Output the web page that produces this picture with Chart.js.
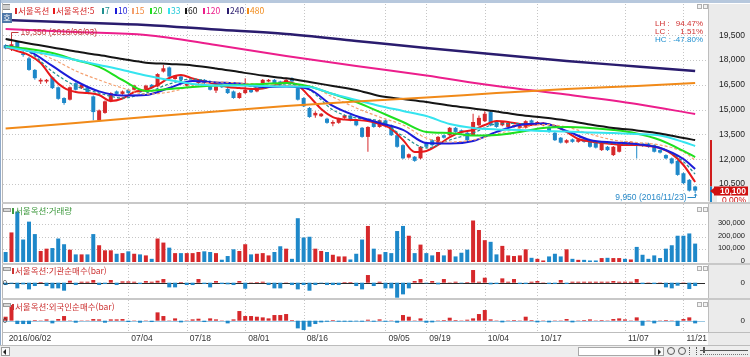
<!DOCTYPE html>
<html lang="ko"><head><meta charset="utf-8">
<title>서울옥션</title>
<script src="https://cdn.jsdelivr.net/npm/chart.js"></script>
<style>
html,body{margin:0;padding:0;background:#fff;}
#wrap{position:relative;width:750px;height:357px;overflow:hidden;background:#fff;font-family:"Noto Sans CJK KR","Noto Sans",sans-serif;}
.box{position:absolute;}
.box canvas{display:block;}
.sep{position:absolute;left:2px;width:748px;background:#c8c8c8;}
.lg{position:absolute;top:4px;height:12px;line-height:12px;font-size:8.5px;white-space:nowrap;}
.mk{display:inline-block;width:2px;height:6px;margin-right:1px;vertical-align:middle;position:relative;top:-1px;}
.ttl{position:absolute;height:11px;line-height:11px;font-size:8.5px;white-space:nowrap;}
.ico{position:absolute;width:6px;height:2px;border:1px solid #9a9a9a;background:#d8d8d8;}
.pb{position:absolute;width:3px;height:3px;border:1px solid #b0b0b0;background:#f2f2f2;}
.zl{position:absolute;left:3px;font:7px "Liberation Sans",sans-serif;color:#333;line-height:8px;}
</style></head><body>
<div id="wrap">
  <div class="box" style="left:3px;top:4px;width:747px;height:198px"><canvas id="cMain" width="747" height="198"></canvas></div>
  <div class="box" style="left:3px;top:204px;width:747px;height:60px"><canvas id="cVol" width="747" height="60"></canvas></div>
  <div class="box" style="left:3px;top:265px;width:747px;height:33px"><canvas id="cInst" width="747" height="33"></canvas></div>
  <div class="box" style="left:3px;top:300px;width:747px;height:46px"><canvas id="cFor" width="747" height="46"></canvas></div>

  <!-- frame -->
  <div style="position:absolute;left:0;top:0;width:750px;height:3px;background:#b7c8dd"></div>
  <div style="position:absolute;left:0;top:0;width:1px;height:357px;background:#8fa9c9"></div>
  <div style="position:absolute;left:2px;top:3px;width:1px;height:343px;background:#b8b8b8"></div>
  <div class="sep" style="top:202px;height:2px"></div>
  <div class="sep" style="top:263px;height:2px"></div>
  <div class="sep" style="top:298px;height:2px"></div>
  <div class="sep" style="top:332px;height:1px;background:#bdbdbd"></div>
  <div style="position:absolute;left:0;top:345px;width:750px;height:12px;background:#eeeeee;border-top:1px solid #bcbcbc;box-sizing:border-box"></div>

  <!-- main legend -->
  <div style="position:absolute;left:3px;top:4px;width:7px;height:4px;border-top:1px solid #8a8a8a;border-bottom:1px solid #8a8a8a;background:#cfcfcf"></div>
  <div style="position:absolute;left:2px;top:13px;width:10px;height:10px;background:#4f77a8;color:#fff;font-size:8px;line-height:10px;text-align:center">호</div>
  <div class="lg" style="left:15px;color:#d42a2a"><span class="mk" style="background:#d42a2a"></span>서울옥션</div>
  <div class="lg" style="left:53px;color:#d42a2a"><span class="mk" style="background:#e8191b"></span>서울옥션:5</div>
  <div class="lg" style="left:102px;color:#208f8f"><span class="mk" style="background:#208f8f"></span>7</div>
  <div class="lg" style="left:115px;color:#1c1cd8"><span class="mk" style="background:#1c1cd8"></span>10</div>
  <div class="lg" style="left:132px;color:#f08a40"><span class="mk" style="background:#f4a070"></span>15</div>
  <div class="lg" style="left:150px;color:#1fc01f"><span class="mk" style="background:#1fe01f"></span>20</div>
  <div class="lg" style="left:168px;color:#20c8d8"><span class="mk" style="background:#35e4ef"></span>33</div>
  <div class="lg" style="left:185px;color:#151515"><span class="mk" style="background:#151515"></span>60</div>
  <div class="lg" style="left:203px;color:#ec1e8c"><span class="mk" style="background:#ec1e8c"></span>120</div>
  <div class="lg" style="left:227px;color:#2a1c6e"><span class="mk" style="background:#2a1c6e"></span>240</div>
  <div class="lg" style="left:247px;color:#f18a19"><span class="mk" style="background:#f18a19"></span>480</div>

  <!-- panel titles -->
  <div class="ico" style="left:3px;top:208px"></div>
  <div class="ttl" style="left:12px;top:205px;color:#3f9a3f"><span class="mk" style="background:#3f9a3f"></span>서울옥션:거래량</div>
  <div class="ico" style="left:3px;top:267px"></div>
  <div class="ttl" style="left:12px;top:265px;color:#cc3333"><span class="mk" style="background:#cc3333"></span>서울옥션:기관순매수(bar)</div>
  <div class="ico" style="left:3px;top:303px"></div>
  <div class="ttl" style="left:12px;top:301px;color:#cc3333"><span class="mk" style="background:#cc3333"></span>서울옥션:외국인순매수(bar)</div>
  <div class="zl" style="top:279px">0</div>
  <div class="zl" style="top:317px">0</div>

  <!-- panel buttons -->
  <div class="pb" style="left:697px;top:4px"></div><div class="pb" style="left:703px;top:4px"></div>
  <div class="pb" style="left:697px;top:207px"></div><div class="pb" style="left:703px;top:207px"></div>
  <div class="pb" style="left:697px;top:266px"></div><div class="pb" style="left:703px;top:266px"></div>
  <div class="pb" style="left:697px;top:302px"></div><div class="pb" style="left:703px;top:302px"></div>

  <!-- bottom bar -->
  <div style="position:absolute;left:1px;top:347px;width:9px;height:9px;border:1px solid #9c9c9c;background:#fafafa;box-sizing:border-box"></div>
  <div style="position:absolute;left:3px;top:349px;width:0;height:0;border-top:3px solid transparent;border-bottom:3px solid transparent;border-right:3px solid #222"></div>
  <div style="position:absolute;left:578px;top:347px;width:77px;height:9px;border:1px solid #a8a8a8;background:#fff;box-sizing:border-box"></div>
  <div style="position:absolute;left:655px;top:347px;width:9px;height:9px;border:1px solid #9c9c9c;background:#fafafa;box-sizing:border-box"></div>
  <div style="position:absolute;left:658px;top:349px;width:0;height:0;border-top:3px solid transparent;border-bottom:3px solid transparent;border-left:3px solid #222"></div>
  <div style="position:absolute;left:667px;top:347px;width:6px;height:6px;border:1px solid #555;border-radius:50%"></div>
  <div style="position:absolute;left:678px;top:347px;width:6px;height:6px;border:1px solid #555;border-radius:50%"></div>
  <div style="position:absolute;left:689px;top:347px;width:6px;height:8px;border-left:1px dotted #555;border-right:1px dotted #555"></div>
  <div style="position:absolute;left:700px;top:350px;width:48px;height:1px;background:#555"></div>
  <div style="position:absolute;left:703px;top:347px;width:2px;height:6px;background:#555"></div>
  <div style="position:absolute;left:700px;top:354px;width:48px;height:1px;border-top:1px dotted #777"></div>
</div>

<script>
// ====== DATA ======
const dates = ['06/02','06/03','06/07','06/08','06/09','06/10','06/13','06/14','06/15','06/16','06/17','06/20','06/21','06/22','06/23','06/24','06/27','06/28','06/29','06/30',
'07/01','07/04','07/05','07/06','07/07','07/08','07/11','07/12','07/13','07/14','07/15','07/18','07/19','07/20','07/21','07/22','07/25','07/26','07/27','07/28','07/29',
'08/01','08/02','08/03','08/04','08/05','08/08','08/09','08/10','08/11','08/12','08/16','08/17','08/18','08/19','08/22','08/23','08/24','08/25','08/26','08/29','08/30','08/31',
'09/01','09/02','09/05','09/06','09/07','09/08','09/09','09/12','09/13','09/19','09/20','09/21','09/22','09/23','09/26','09/27','09/28','09/29','09/30',
'10/04','10/05','10/06','10/07','10/10','10/11','10/12','10/13','10/14','10/17','10/18','10/19','10/20','10/21','10/24','10/25','10/26','10/27','10/28','10/31',
'11/01','11/02','11/03','11/04','11/07','11/08','11/09','11/10','11/11','11/14','11/15','11/16','11/17','11/18','11/21','11/22','11/23'];

const axisDates = ['06/02','07/04','07/18','08/01','08/16','09/05','09/19','10/04','10/17','11/07','11/21'];
const axisText  = ['2016/06/02','07/04','07/18','08/01','08/16','09/05','09/19','10/04','10/17','11/07','11/21'];

const openP = [18900,18700,19100,18400,18100,17400,16700,16700,16950,16350,
15700,15600,16600,16300,16350,15800,14350,14800,15500,16100,
15950,16200,16200,16200,16250,16500,16400,17300,17550,16850,
17000,16450,16500,16600,16800,16400,16150,16500,16250,16100,
15700,16000,16200,16100,16600,16700,16800,16700,16600,16900,
16300,15700,15100,14650,14600,14450,14150,14200,14500,14650,
14350,13900,13350,14250,13950,14350,14050,13450,12850,12100,
12150,12050,13000,13150,13000,13450,13450,13900,13750,13600,
13450,14050,14300,14850,14250,14050,13950,13950,13900,13900,
14350,14150,14050,13950,13600,13300,13000,13200,13050,13150,
13050,13000,12550,12750,12250,12450,13050,12950,12950,12950,
12950,12850,12550,12250,12050,11900,11150,10750,10350];
const highP = [18950,19350,19150,18550,18200,17450,16900,16850,17000,16400,
15750,16400,16650,16550,16400,15850,15000,15550,16050,16150,
16150,16250,16500,16250,16500,16550,17200,17700,17600,17100,
17050,16600,16600,16750,16850,16450,16450,16550,16300,16150,
16050,16900,16250,16250,16850,16850,16850,16750,16850,16950,
16350,15750,15150,14900,14800,14500,14350,14500,14700,14700,
14400,13950,14000,14300,14400,14400,14100,13500,12900,12350,
12200,12800,13050,13200,13400,13500,13950,13950,13800,13650,
14750,14650,14900,14900,14300,14300,14250,14100,14050,14350,
14400,14300,14250,14000,13650,13350,13200,13250,13250,13200,
13100,13050,13100,12800,12800,13000,13100,13100,13000,13000,
13000,12900,12600,12300,12100,11950,11200,10800,10400];
const lowP = [18650,18550,18650,18200,17350,16800,16550,16600,16250,15600,
15300,15550,16150,16250,15950,14350,14300,14750,15450,15900,
15900,15950,16150,16000,16200,16250,16350,17250,16950,16800,
16750,16400,16450,16550,16550,16150,16000,16300,15950,15650,
15650,15950,16000,16050,16550,16650,16550,16450,16550,16650,
15550,15150,14500,14500,14550,14150,14000,14150,14450,14300,
14000,13300,12450,13900,13900,14000,13400,12700,12000,12050,
11850,12000,12700,12800,12950,13250,13400,13600,13550,13100,
13400,14000,14250,14000,13900,14000,13900,13900,13850,13850,
14150,14100,14000,13600,13100,12950,12950,13000,13000,13000,
12700,12650,12500,12500,12200,12400,12900,12900,12050,12750,
12700,12400,12350,12000,11700,11000,10500,10050,9950];
const closeP = [18700,18950,18700,18300,17400,16900,16800,16800,16300,15650,
15400,16350,16200,16500,16000,14850,14950,15500,16000,15950,
16100,16000,16450,16050,16450,16300,17150,17500,17000,17050,
16800,16550,16550,16700,16600,16200,16400,16350,16000,15700,
16000,16200,16050,16200,16800,16800,16600,16500,16800,16700,
15600,15200,14550,14800,14750,14200,14250,14450,14650,14350,
14050,13350,13950,13950,14350,14050,13450,12750,12050,12300,
11900,12750,12750,12850,13350,13300,13900,13650,13600,13150,
14250,14500,14750,14050,13950,14250,14200,14050,14000,14300,
14200,14250,14200,13650,13150,13000,13150,13050,13200,13050,
12750,12700,13050,12550,12750,12950,12950,13050,12800,12800,
12750,12450,12400,12050,11750,11050,10550,10100,10100];

const volume = [79000,233000,398000,177000,318000,220000,87000,105000,110000,185000,
140000,97000,60000,60000,60000,220000,132000,92000,92000,65000,
70000,84000,65000,60000,52000,25000,185000,153000,113000,70000,
70000,70000,70000,79000,84000,79000,70000,18000,47000,100000,
87000,140000,60000,65000,70000,52000,79000,124000,105000,25000,
345000,193000,199000,105000,87000,79000,57000,44000,44000,20000,
65000,177000,284000,105000,60000,79000,70000,244000,284000,207000,
70000,137000,70000,52000,79000,52000,97000,44000,73000,97000,
327000,252000,172000,159000,60000,127000,52000,47000,52000,100000,
33000,25000,12000,44000,65000,44000,100000,25000,17000,17000,
12000,12000,31000,33000,31000,31000,25000,20000,119000,57000,
25000,52000,31000,105000,132000,207000,207000,225000,145000];

const instNet = [-7000,-3000,-17000,-5000,-20000,-10000,2000,-10000,-17000,-17000,
-24000,6000,-7000,3000,3000,8000,-7000,-4000,8000,-7000,
4000,4000,3000,-4000,5000,3000,6000,11000,-14000,-14000,
2000,-7000,-7000,11000,-4000,-14000,5000,-4000,-5000,-7000,
5000,-18000,1000,2000,3000,-7000,-17000,-17000,1000,-7000,
-20000,-7000,-24000,-7000,-2000,-7000,-7000,-7000,2000,2000,
-10000,-20000,23000,-10000,3000,-17000,-17000,-45000,-35000,-17000,
5000,11000,-2000,5000,-5000,11000,1000,3000,-2000,2000,
38000,3000,15000,-5000,-4000,13000,3000,11000,-4000,-4000,
3000,5000,1000,-4000,-4000,8000,-4000,3000,3000,3000,
3000,3000,3000,3000,5000,3000,3000,3000,11000,-4000,
1000,-4000,1000,-14000,-17000,-9000,1000,-19000,-10000];

const foreignNet = [12000,47000,-10000,-10000,-10000,2000,1000,4000,-8000,5000,
14000,1000,-6000,1000,1000,5000,4000,-6000,4000,4000,
5000,-4000,1000,-6000,1000,-4000,25000,14000,1000,7000,
-5000,1000,4000,6000,-4000,7000,4000,1000,-8000,4000,
29000,14000,14000,12000,10000,7000,17000,17000,20000,2000,
-23000,-28000,-18000,-10000,-5000,-3000,2000,-3000,-3000,-3000,
-2000,-3000,3000,-3000,4000,-3000,1000,-6000,17000,12000,
1000,7000,-6000,-5000,1000,2000,9000,2000,1000,3000,
7000,20000,32000,4000,1000,-5000,1000,2000,1000,12000,
2000,-5000,1000,-5000,1000,1000,5000,-5000,1000,2000,
4000,1000,2000,1000,5000,7000,4000,1000,10000,-15000,
1000,-8000,1000,2000,1000,-16000,5000,10000,-8000];

// moving averages (sample positions = trading-day index)
const ma5Idx = [0,2,4,6,8,10,12,14,16,18,20,22,24,26,28,30,32,34,36,38,40,42,44,46,48,50,52,54,56,58,60,62,64,66,68,70,72,74,76,78,80,82,84,86,88,90,92,94,96,98,100,102,104,106,108,110,112,114,116,118];
const ma5 = [18790,18540,18300,17820,16910,16310,16060,16000,15880,15520,15670,16060,16190,16490,16910,17090,16880,16700,16550,16370,16310,16250,16280,16460,16670,16460,15790,15040,14550,14400,14370,14310,14130,13830,13160,12440,12500,12860,13340,13650,13770,14070,14310,14250,14130,14070,14160,14010,13650,13220,13070,12980,12920,12860,12860,12800,12680,12320,11650,10620];
const maIdx = [0,4,8,12,16,20,24,28,32,36,40,44,48,52,56,60,64,68,72,76,80,84,88,92,96,100,104,108,112,116,118];
const ma7  = [18820,18480,17300,16430,16000,15700,16000,16550,16850,16650,16520,16310,16550,16190,14980,14490,14310,13400,12680,13160,13590,14130,14160,14150,13700,13120,12950,12890,12700,11850,11100];
const ma10 = [18850,18540,17640,16730,16100,15850,15880,16310,16730,16640,16580,16370,16390,16220,15220,14610,14190,13770,12980,12950,13100,13650,14070,14160,13710,13160,13010,12920,12680,12010,11410];
const ma15 = [18820,18600,18060,17340,16790,16310,15940,16060,16430,16670,16610,16520,16460,16400,15760,15100,14550,14070,13280,13040,13160,13520,13860,14100,13950,13520,13160,13010,12860,12440,11950];
const ma20 = [18820,18670,18420,18000,17580,16790,16130,16250,16370,16460,16490,16550,16610,16400,15940,15460,14860,14250,13650,13590,13430,13460,13650,13890,13950,13890,13770,13560,13160,12500,12130];
const ma33 = [18790,18540,18300,18000,17700,17400,17060,16790,16550,16460,16460,16430,16400,16370,15940,15580,15220,14920,14610,14130,13890,13800,13770,13710,13680,13620,13590,13520,13430,13040,12800];
const ma60 = [19270,19000,18760,18510,18300,18060,17840,17760,17670,17490,17270,17060,16890,16670,16430,16190,15820,15640,15460,15250,15070,14890,14670,14520,14340,14100,13890,13740,13560,13280,13160];
const longIdx = [0,12,24,36,48,60,72,84,96,108,118];
const ma120 = [19880,19690,19510,18910,18240,17640,17060,16430,15910,15340,14730];
const ma240 = [20420,20270,20120,19840,19570,19150,18730,18330,17940,17610,17340];
const ma480 = [13860,14190,14550,14890,15220,15490,15730,16000,16250,16430,16610];

const priceTicks = [10500,12000,13500,15000,16500,18000,19500];
const volTicks = [0,100000,200000,300000];
const rangeBar = [13160,10350]; // right-edge range marker

// ====== CHARTS ======
const X_MIN = -0.45, X_MAX = 120.2;
const AXIS_W = 37, PAD_R = 5;   // plot right edge at 708, axis labels right-aligned at 745
const tickIdx = axisDates.map(d => dates.indexOf(d));
const gridIdx = tickIdx.slice(1);
const UP = '#d6282b', DN = '#1e88c9';
const isUp = i => closeP[i] >= openP[i];
const fmt = v => Number(v).toLocaleString('en-US');
const candleColors = dates.map((d, i) => isUp(i) ? UP : DN);

function xAxis(show) {
  return {
    type: 'linear', min: X_MIN, max: X_MAX, offset: false, display: show,
    grid: {display: false, drawTicks: false}, border: {display: false},
    afterFit(s) { s.paddingLeft = 0; s.paddingRight = 0; if (show) s.height = 14; },
    afterBuildTicks(s) { s.ticks = tickIdx.map(v => ({value: v})); },
    ticks: {display: show, autoSkip: false, maxRotation: 0, minRotation: 0, align: 'start', labelOffset: 3, padding: 2,
      color: '#333', font: {family: 'Liberation Sans', size: 8.5},
      callback: v => axisText[tickIdx.indexOf(v)]}
  };
}
function yAxis(min, max, ticks, size, off) {
  return {
    position: 'right', min, max, beginAtZero: false,
    grid: {display: false, drawTicks: false}, border: {display: false},
    afterFit(s) { s.width = AXIS_W; s.paddingTop = 0; s.paddingBottom = 0; },
    afterBuildTicks(s) { s.ticks = ticks.map(v => ({value: v})); },
    ticks: {crossAlign: 'far', padding: 0, labelOffset: off || 0, color: '#222',
      font: {family: 'Liberation Sans', size: size}, callback: v => fmt(v)}
  };
}
function panelPlugin(hLines, zeroColor) {
  return {
    id: 'panel',
    beforeDraw(chart) {
      const {ctx, chartArea: a, width, height} = chart;
      const x = chart.scales.x, y = chart.scales.y;
      ctx.save();
      ctx.fillStyle = '#fff'; ctx.fillRect(0, 0, width, height);
      ctx.fillStyle = '#ebebeb'; ctx.fillRect(a.right, 0, width - a.right, height);
      ctx.strokeStyle = '#c6c6c6'; ctx.lineWidth = 1; ctx.setLineDash([1, 2]);
      ctx.beginPath();
      gridIdx.forEach(i => { const px = Math.round(x.getPixelForValue(i)) + 0.5; ctx.moveTo(px, a.top); ctx.lineTo(px, a.bottom); });
      hLines.forEach(v => { const py = Math.round(y.getPixelForValue(v)) + 0.5; ctx.moveTo(a.left, py); ctx.lineTo(a.right, py); });
      ctx.stroke();
      ctx.setLineDash([]);
      ctx.strokeStyle = '#bdbdbd';
      ctx.beginPath(); ctx.moveTo(a.right + 0.5, a.top); ctx.lineTo(a.right + 0.5, a.bottom); ctx.stroke();
      if (zeroColor) {
        const py = Math.round(y.getPixelForValue(0)) + 0.5;
        ctx.strokeStyle = zeroColor;
        ctx.beginPath(); ctx.moveTo(a.left, py); ctx.lineTo(a.right - 3, py); ctx.stroke();
      }
      ctx.restore();
    }
  };
}
const baseOpts = (xShow, yOpt, bottomPad) => ({
  responsive: false, animation: false, devicePixelRatio: 1, events: [],
  layout: {padding: {top: 0, left: 0, right: PAD_R, bottom: bottomPad || 0}},
  plugins: {legend: {display: false}, tooltip: {enabled: false}},
  scales: {x: xAxis(xShow), y: yOpt}
});
const lineDs = (label, xs, ys, color, w, dash) => ({
  type: 'line', label, data: xs.map((x, k) => ({x, y: ys[k]})),
  borderColor: color, borderWidth: w, borderDash: dash || [], pointRadius: 0,
  cubicInterpolationMode: 'monotone', fill: false, order: 1
});

const mainMarks = {
  id: 'mainMarks',
  afterDraw(chart) {
    const {ctx, chartArea: a} = chart;
    const x = chart.scales.x, y = chart.scales.y;
    const hiVal = Math.max(...highP), loVal = Math.min(...lowP);
    const hi = highP.indexOf(hiVal), lo = lowP.indexOf(loVal);
    const last = closeP.length - 1, lastC = closeP[last], prevC = closeP[last - 1];
    ctx.save();
    ctx.font = '8.5px "Liberation Sans"'; ctx.textBaseline = 'middle';
    // highest
    const hx = Math.round(x.getPixelForValue(hi)) + 0.5, hy = Math.round(y.getPixelForValue(hiVal)) + 0.5;
    ctx.strokeStyle = '#c23b3b'; ctx.lineWidth = 1;
    ctx.beginPath(); ctx.moveTo(hx, hy); ctx.lineTo(hx, hy - 6); ctx.lineTo(hx + 7, hy - 6); ctx.stroke();
    ctx.fillStyle = '#c23b3b'; ctx.textAlign = 'left';
    ctx.fillText(fmt(hiVal) + ' (2016/' + dates[hi] + ')', hx + 9, hy - 6);
    // lowest
    const lx = Math.round(x.getPixelForValue(lo)) + 0.5, ly = Math.round(y.getPixelForValue(loVal)) + 0.5;
    ctx.strokeStyle = '#2a8ac8'; ctx.fillStyle = '#2a8ac8';
    ctx.beginPath(); ctx.moveTo(lx - 8, ly + 4); ctx.lineTo(lx, ly + 4); ctx.lineTo(lx, ly + 1); ctx.stroke();
    ctx.beginPath(); ctx.moveTo(lx - 2, ly + 2); ctx.lineTo(lx, ly); ctx.lineTo(lx + 2, ly + 2); ctx.closePath(); ctx.fill();
    ctx.textAlign = 'right';
    ctx.fillText(fmt(loVal) + ' (2016/' + dates[lo] + ')', lx - 9, ly + 4);
    // LH / LC / HC
    const pct = v => v.toFixed(2) + '%';
    const rows = [['LH :', pct((hiVal - loVal) / loVal * 100), '#d03030'],
                  ['LC :', pct((lastC - loVal) / loVal * 100), '#d03030'],
                  ['HC :', pct((lastC - hiVal) / hiVal * 100), '#2090d0']];
    ctx.font = '8px "Liberation Sans"';
    rows.forEach((r, k) => {
      const ty = 19.5 + k * 8;
      ctx.fillStyle = r[2];
      ctx.textAlign = 'left'; ctx.fillText(r[0], a.right - 53, ty);
      ctx.textAlign = 'right'; ctx.fillText(r[1], a.right - 5, ty);
    });
    // range marker at axis edge
    const ry1 = y.getPixelForValue(rangeBar[0]), ry2 = y.getPixelForValue(rangeBar[1]);
    ctx.fillStyle = '#d01c1c'; ctx.fillRect(a.right + 2, ry1, 2, ry2 - ry1);
    ctx.fillStyle = '#1e88c9'; ctx.fillRect(a.right + 2, ry2, 2, a.bottom + 1 - ry2);
    // current price box
    const cy = Math.round(y.getPixelForValue(lastC));
    ctx.fillStyle = '#d01010';
    ctx.beginPath(); ctx.moveTo(a.right + 2, cy); ctx.lineTo(a.right + 6, cy - 3); ctx.lineTo(a.right + 6, cy + 3); ctx.closePath(); ctx.fill();
    ctx.fillRect(a.right + 6, cy - 4.5, 34, 9);
    ctx.fillStyle = '#fff'; ctx.font = 'bold 8.5px "Liberation Sans"'; ctx.textAlign = 'right';
    ctx.fillText(fmt(lastC), a.right + 38, cy + 0.5);
    ctx.fillStyle = '#fff'; ctx.fillRect(a.right + 9, cy + 5, 31, 9);
    ctx.fillStyle = '#d01010'; ctx.font = '8.5px "Liberation Sans"';
    ctx.fillText(((lastC - prevC) / prevC * 100).toFixed(2) + '%', a.right + 38, cy + 9.5);
    ctx.restore();
  }
};

new Chart(document.getElementById('cMain'), {
  type: 'bar',
  data: {datasets: [
    lineDs('480', longIdx, ma480, '#f18a19', 2),
    lineDs('240', longIdx, ma240, '#2a1c6e', 2.5),
    lineDs('120', longIdx, ma120, '#ec1e8c', 2),
    lineDs('60', maIdx, ma60, '#151515', 2),
    lineDs('33', maIdx, ma33, '#35e4ef', 2),
    lineDs('20', maIdx, ma20, '#1fe01f', 2),
    lineDs('15', maIdx, ma15, '#f4a070', 1.2, [3, 2]),
    lineDs('10', maIdx, ma10, '#1c1cd8', 2),
    lineDs('7', maIdx, ma7, '#208f8f', 1.2, [3, 2]),
    lineDs('5', ma5Idx, ma5, '#e8191b', 2),
    {type: 'bar', label: '서울옥션', data: dates.map((d, i) => ({x: i, y: [openP[i], closeP[i]]})),
     backgroundColor: candleColors, grouped: false, maxBarThickness: 4, order: 10},
    {type: 'bar', label: 'wick', data: dates.map((d, i) => ({x: i, y: [lowP[i], highP[i]]})),
     backgroundColor: candleColors, grouped: false, maxBarThickness: 1, inflateAmount: 0, order: 11}
  ]},
  options: baseOpts(false, yAxis(9472, 21387, priceTicks, 8.5), 1),
  plugins: [panelPlugin(priceTicks), mainMarks]
});

new Chart(document.getElementById('cVol'), {
  type: 'bar',
  data: {datasets: [{label: '거래량', data: dates.map((d, i) => ({x: i, y: volume[i]})),
    backgroundColor: candleColors, grouped: false, maxBarThickness: 4}]},
  options: baseOpts(false, yAxis(0, 457000, volTicks, 7.5, -1), 2),
  plugins: [panelPlugin([100000, 200000, 300000])]
});

new Chart(document.getElementById('cInst'), {
  type: 'bar',
  data: {datasets: [{label: '기관순매수', data: dates.map((d, i) => ({x: i, y: instNet[i]})),
    backgroundColor: instNet.map(v => v >= 0 ? UP : DN), grouped: false, maxBarThickness: 4}]},
  options: baseOpts(false, yAxis(-45900, 53100, [0], 8), 0),
  plugins: [panelPlugin([], '#2a2a2a')]
});

new Chart(document.getElementById('cFor'), {
  type: 'bar',
  data: {datasets: [{label: '외국인순매수', data: dates.map((d, i) => ({x: i, y: foreignNet[i]})),
    backgroundColor: foreignNet.map(v => v >= 0 ? UP : DN), grouped: false, maxBarThickness: 4}]},
  options: baseOpts(true, yAxis(-33900, 62100, [0], 8), 0),
  plugins: [panelPlugin([], '#9cc9e3')]
});
</script>
</body></html>
